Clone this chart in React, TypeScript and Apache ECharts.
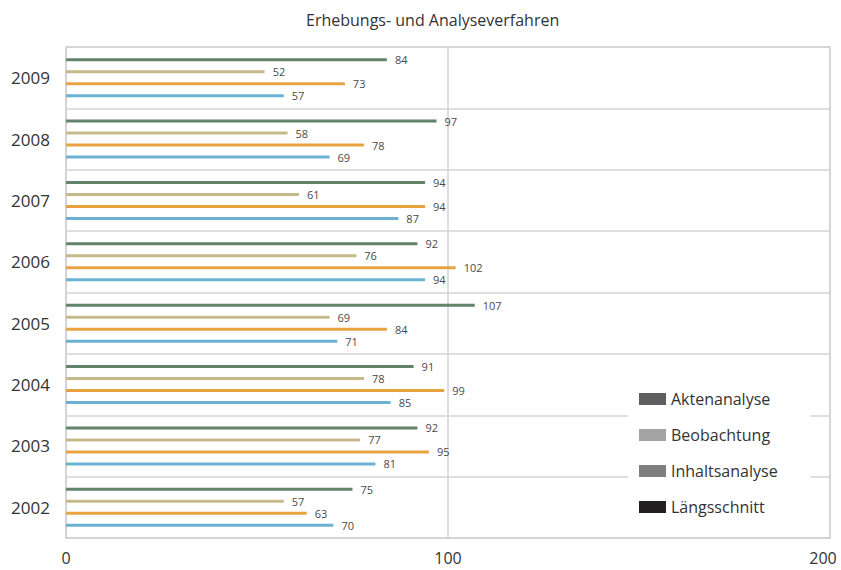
import React, { useEffect, useRef } from "react";
import * as echarts from "echarts";

const years = ["2002", "2003", "2004", "2005", "2006", "2007", "2008", "2009"];
const aktenanalyse = [75, 92, 91, 107, 92, 94, 97, 84];
const beobachtung = [57, 77, 78, 69, 76, 61, 58, 52];
const inhaltsanalyse = [63, 95, 99, 84, 102, 94, 78, 73];
const laengsschnitt = [70, 81, 85, 71, 94, 87, 69, 57];
const seriesNames = ["Aktenanalyse", "Beobachtung", "Inhaltsanalyse", "Längsschnitt"];
const barColors = ["#62846a", "#c6b98b", "#e8a23f", "#6bb2d2"];
const legendColors = ["#5f5f5f", "#a3a3a3", "#7f7f7f", "#231f20"];
const xTicks = [0, 100, 200];

const FONT = "'Open Sans', 'Noto Sans', sans-serif";

export default function App() {
  const ref = useRef<HTMLDivElement>(null);
  useEffect(() => {
    if (!ref.current) return;
    const chart = echarts.init(ref.current, undefined, { renderer: "svg" });
    const values = [aktenanalyse, beobachtung, inhaltsanalyse, laengsschnitt];
    const maxTick = xTicks[xTicks.length - 1];
    chart.setOption({
      animation: false,
      textStyle: { fontFamily: FONT },
      title: {
        text: "Erhebungs- und Analyseverfahren",
        left: 301,
        top: 7,
        textStyle: { fontFamily: FONT, fontSize: 16, fontWeight: "normal", color: "#333" },
      },
      grid: {
        left: 66,
        right: 11,
        top: 47,
        bottom: 32,
        outerBoundsMode: "none",
        containLabel: false,
        show: true,
        borderColor: "#d3d3d3",
        borderWidth: 1.5,
      },
      legend: {
        orient: "vertical",
        left: 628,
        top: 381,
        padding: [10, 33, 10, 11],
        backgroundColor: "#ffffff",
        itemWidth: 27,
        itemHeight: 12,
        itemGap: 20,
        icon: "rect",
        textStyle: { fontFamily: FONT, fontSize: 16, color: "#333" },
        data: seriesNames.map((n, i) => ({ name: n, itemStyle: { color: legendColors[i] } })),
      },
      xAxis: {
        type: "value",
        min: xTicks[0],
        max: maxTick,
        interval: 100,
        axisLine: { show: true, lineStyle: { color: "#d3d3d3", width: 1.5 } },
        axisTick: { show: false },
        axisLabel: {
          fontFamily: FONT,
          fontSize: 16,
          lineHeight: 18,
          color: "#333",
          margin: 11,
          formatter: (v: number) => (v === maxTick ? "{r|" + v + "}" : String(v)),
          rich: {
            r: { fontFamily: FONT, fontSize: 16, lineHeight: 18, color: "#333", padding: [0, 14, 0, 0] },
          },
        },
        splitLine: { show: true, lineStyle: { color: "#d3d3d3", width: 1.5 } },
      },
      yAxis: {
        type: "category",
        data: years,
        axisLine: { show: true, lineStyle: { color: "#d3d3d3", width: 1.5 } },
        axisTick: { show: false },
        axisLabel: { fontFamily: FONT, fontSize: 17, color: "#333", margin: 16 },
        splitLine: { show: true, lineStyle: { color: "#d3d3d3", width: 1.5 } },
      },
      series: seriesNames.map((n, i) => ({
        name: n,
        type: "bar",
        data: values[i],
        barWidth: 3,
        barGap: "300%",
        itemStyle: { color: barColors[i] },
        label: {
          show: true,
          position: "right",
          distance: 8,
          fontFamily: FONT,
          fontSize: 11,
          color: "#4a4a4a",
        },
      })),
    });
    return () => chart.dispose();
  }, []);
  return (
    <div
      ref={ref}
      style={{ position: "fixed", left: 0, top: 0, width: 841, height: 570, background: "#fff" }}
    />
  );
}
